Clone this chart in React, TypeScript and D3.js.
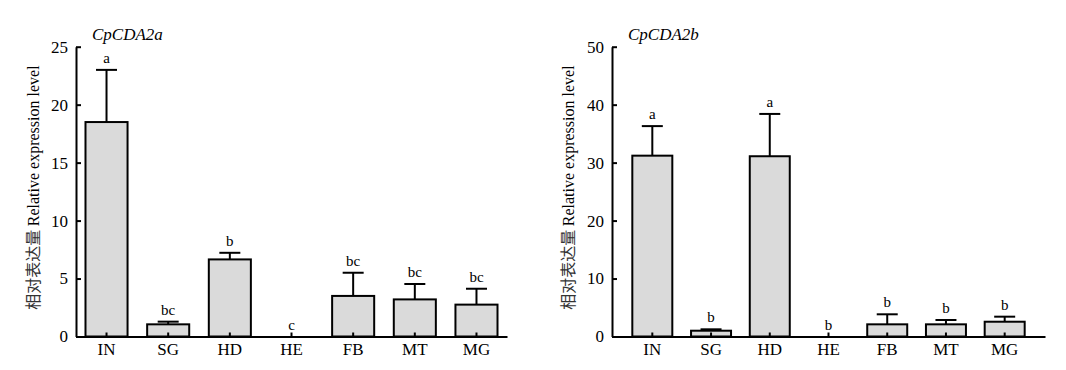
import { useEffect, useRef } from 'react'
import * as d3 from 'd3'

const tissues = ['IN', 'SG', 'HD', 'HE', 'FB', 'MT', 'MG']

// CpCDA2a
const meanA = [18.5, 1.05, 6.65, 0, 3.5, 3.2, 2.75]
const errA = [4.5, 0.23, 0.57, 0, 2.0, 1.33, 1.37]
const sigA = ['a', 'bc', 'b', 'c', 'bc', 'bc', 'bc']
const ticksA = [0, 5, 10, 15, 20, 25]

// CpCDA2b
const meanB = [31.2, 1.0, 31.1, 0, 2.1, 2.1, 2.55]
const errB = [5.1, 0.24, 7.3, 0, 1.73, 0.75, 0.87]
const sigB = ['a', 'b', 'a', 'b', 'b', 'b', 'b']
const ticksB = [0, 10, 20, 30, 40, 50]

const serif = '"Liberation Serif", "Times New Roman", serif'

export default function App() {
  const ref = useRef<SVGSVGElement>(null)

  useEffect(() => {
    const svg = d3.select(ref.current)
    svg.selectAll('*').remove()

    const panels = [
      { title: 'CpCDA2a', mean: meanA, err: errA, sig: sigA, ticks: ticksA, max: 25, x0: 76, x1: 507, pInner: 0.318, pOuter: 0.154, labelX: 33 },
      { title: 'CpCDA2b', mean: meanB, err: errB, sig: sigB, ticks: ticksB, max: 50, x0: 612, x1: 1045, pInner: 0.319, pOuter: 0.346, labelX: 568 },
    ]

    const yTop = 46.7
    const yBottom = 336.5

    panels.forEach((p) => {
      const g = svg.append('g')
      const x = d3.scaleBand().domain(tissues).range([p.x0, p.x1])
        .paddingInner(p.pInner).paddingOuter(p.pOuter)
      const y = d3.scaleLinear().domain([0, p.max]).range([yBottom, yTop])

      const rows = tissues.map((t, i) => ({ t, m: p.mean[i], e: p.err[i], s: p.sig[i] }))

      // bars
      g.selectAll('.bar')
        .data(rows.filter((d) => d.m > 0))
        .enter()
        .append('rect')
        .attr('x', (d) => x(d.t)!)
        .attr('y', (d) => y(d.m))
        .attr('width', x.bandwidth())
        .attr('height', (d) => y(0) - y(d.m))
        .attr('fill', '#dadada')
        .attr('stroke', '#000')
        .attr('stroke-width', 2)

      // error bars
      const eb = g.selectAll('.err')
        .data(rows.filter((d) => d.e > 0))
        .enter()
        .append('g')
      eb.append('line')
        .attr('x1', (d) => x(d.t)! + x.bandwidth() / 2)
        .attr('x2', (d) => x(d.t)! + x.bandwidth() / 2)
        .attr('y1', (d) => y(d.m))
        .attr('y2', (d) => y(d.m + d.e))
        .attr('stroke', '#000')
        .attr('stroke-width', 2)
      eb.append('line')
        .attr('x1', (d) => x(d.t)! + x.bandwidth() / 2 - 10.5)
        .attr('x2', (d) => x(d.t)! + x.bandwidth() / 2 + 10.5)
        .attr('y1', (d) => y(d.m + d.e))
        .attr('y2', (d) => y(d.m + d.e))
        .attr('stroke', '#000')
        .attr('stroke-width', 2)

      // significance letters
      g.selectAll('.sig')
        .data(rows)
        .enter()
        .append('text')
        .attr('x', (d) => x(d.t)! + x.bandwidth() / 2)
        .attr('y', (d) => y(d.m + d.e) - 7)
        .attr('text-anchor', 'middle')
        .style('font-family', serif)
        .style('font-size', '15px')
        .text((d) => d.s)

      // x axis
      const xAxis = g.append('g')
        .attr('transform', `translate(0,${yBottom})`)
        .call(d3.axisBottom(x).tickSize(-4).tickSizeOuter(0).tickPadding(6))
      xAxis.select('.domain').attr('stroke-width', 2)
      xAxis.selectAll('.tick line').attr('stroke-width', 2)
      xAxis.selectAll('text')
        .style('font-family', serif)
        .style('font-size', '17px')
        .attr('fill', '#000')

      // y axis
      const yAxis = g.append('g')
        .attr('transform', `translate(${p.x0},0)`)
        .call(d3.axisLeft(y).tickValues(p.ticks).tickSize(-5).tickSizeOuter(0).tickPadding(8))
      yAxis.select('.domain').attr('stroke-width', 2)
      yAxis.selectAll('.tick line').attr('stroke-width', 2)
      yAxis.selectAll('text')
        .style('font-family', serif)
        .style('font-size', '17px')
        .attr('fill', '#000')

      // title
      g.append('text')
        .attr('x', p.x0 + 16)
        .attr('y', 40)
        .style('font-family', serif)
        .style('font-size', '17px')
        .style('font-style', 'italic')
        .text(p.title)

      // y label
      const lab = g.append('text')
        .attr('transform', `translate(${p.labelX},${(yTop + yBottom) / 2 - 4}) rotate(-90)`)
        .attr('text-anchor', 'middle')
        .attr('dy', '0.35em')
        .style('font-family', serif)
        .style('font-size', '16px')
      lab.append('tspan')
        .style('font-family', '"Noto Sans CJK SC", sans-serif')
        .attr('fill', '#333')
        .text('相对表达量 ')
      lab.append('tspan').text('Relative expression level')
    })
  }, [])

  return (
    <div>
      <svg ref={ref} width={1066} height={370} style={{ position: 'absolute', left: 0, top: 0, background: '#fff' }} />
    </div>
  )
}
